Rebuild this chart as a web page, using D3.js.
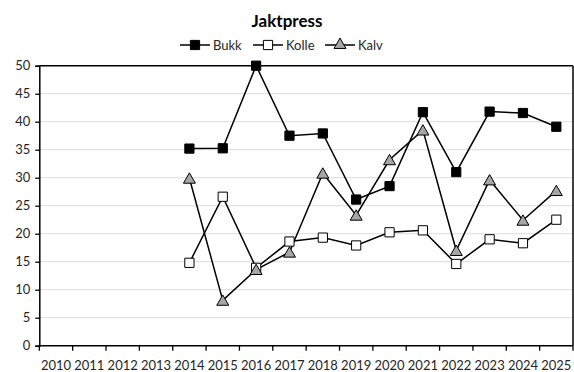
<!DOCTYPE html>
<html>
<head>
<meta charset="utf-8">
<script src="https://cdn.jsdelivr.net/npm/d3@7"></script>
<style>
  body { margin: 0; background: #fff; }
  svg text { font-family: Lato, "Open Sans", sans-serif; }
</style>
</head>
<body>
<svg id="chart" width="574" height="372"></svg>
<script>
var years = ["2010","2011","2012","2013","2014","2015","2016","2017","2018","2019","2020","2021","2022","2023","2024","2025"];
var dataYears = ["2014","2015","2016","2017","2018","2019","2020","2021","2022","2023","2024","2025"];
var bukk  = [35.2, 35.25, 50, 37.5, 37.9, 26.1, 28.5, 41.7, 31.0, 41.8, 41.55, 39.1];
var kolle = [14.8, 26.6, 13.9, 18.6, 19.3, 17.9, 20.25, 20.6, 14.6, 19.0, 18.3, 22.5];
var kalv  = [29.9, 8.1, 13.6, 16.7, 30.8, 23.3, 33.2, 38.5, 17.0, 29.6, 22.4, 27.7];
var yTicks = [0, 5, 10, 15, 20, 25, 30, 35, 40, 45, 50];

var svg = d3.select("#chart");
var margin = {left: 39.3, right: 1, top: 65.7, bottom: 26.3};
var width = 574 - margin.left - margin.right,
    height = 372 - margin.top - margin.bottom;

var x = d3.scaleBand().domain(years).range([0, width]);
var y = d3.scaleLinear().domain([0, 50]).range([height, 0]);

var series = [
  {name: "Bukk", values: bukk, shape: d3.symbolSquare, fill: "#000", size: 85},
  {name: "Kolle", values: kolle, shape: d3.symbolSquare, fill: "#fff", size: 85},
  {name: "Kalv", values: kalv, shape: d3.symbolTriangle, fill: "#a6a6a6", size: 62}
];

// tittel
svg.append("text")
  .attr("x", 287).attr("y", 27)
  .attr("text-anchor", "middle")
  .attr("font-size", 17).attr("font-weight", "bold")
  .attr("fill", "#000")
  .text("Jaktpress");

// legend
var legendX = [180, 253, 325];
var leg = svg.selectAll(".leg").data(series).enter().append("g")
  .attr("class", "leg")
  .attr("transform", function(d, i) { return "translate(" + legendX[i] + ",45)"; });
leg.append("line").attr("x1", 0).attr("x2", 30).attr("stroke", "#000").attr("stroke-width", 1.5);
leg.append("path")
  .attr("transform", "translate(15,0)")
  .attr("d", function(d) { return d3.symbol().type(d.shape).size(d.size)(); })
  .attr("fill", function(d) { return d.fill; })
  .attr("stroke", "#000").attr("stroke-width", 1);
leg.append("text")
  .attr("x", 33).attr("dy", "0.35em")
  .attr("font-size", 13).attr("fill", "#262626")
  .text(function(d) { return d.name; });

var g = svg.append("g")
  .attr("transform", "translate(" + margin.left + "," + margin.top + ")");

// rutenett
g.selectAll(".grid").data(yTicks.slice(1, -1)).enter().append("line")
  .attr("x1", 0).attr("x2", width)
  .attr("y1", function(d) { return y(d); }).attr("y2", function(d) { return y(d); })
  .attr("stroke", "#e3e3e3").attr("stroke-width", 1.3);

// ramme topp og høyre
g.append("line").attr("x1", 0).attr("x2", width).attr("y1", 0).attr("y2", 0)
  .attr("stroke", "#000").attr("stroke-width", 1.5);
g.append("line").attr("x1", width).attr("x2", width).attr("y1", 0).attr("y2", height)
  .attr("stroke", "#000").attr("stroke-width", 1.5);

// akser
var yAxis = g.append("g")
  .call(d3.axisLeft(y).tickValues(yTicks).tickSize(4).tickPadding(5));
var xBounds = d3.range(years.length + 1).map(function(i) { return i * x.step(); });
var xAxis = g.append("g").attr("transform", "translate(0," + height + ")");
xAxis.append("line").attr("x1", 0).attr("x2", width).attr("stroke", "#000").attr("stroke-width", 1.5);
xAxis.selectAll(".tk").data(xBounds).enter().append("line")
  .attr("x1", function(d) { return d; }).attr("x2", function(d) { return d; })
  .attr("y1", 0).attr("y2", 5).attr("stroke", "#000").attr("stroke-width", 1.3);
xAxis.selectAll(".lbl").data(years).enter().append("text")
  .attr("x", function(d) { return x(d) + x.bandwidth() / 2; })
  .attr("y", 20).attr("dy", "0.35em")
  .attr("text-anchor", "middle")
  .attr("font-size", 13).attr("fill", "#262626")
  .text(function(d) { return d; });

yAxis.select(".domain").attr("stroke-width", 1.5);
yAxis.selectAll(".tick line").attr("stroke-width", 1.3);
yAxis.selectAll("text").attr("font-size", 13).attr("fill", "#262626").style("font-family", "Lato, sans-serif");

// serier
var line = d3.line()
  .x(function(d, i) { return x(dataYears[i]) + x.bandwidth() / 2; })
  .y(function(d) { return y(d); });

series.forEach(function(s) {
  g.append("path").datum(s.values)
    .attr("d", line)
    .attr("fill", "none").attr("stroke", "#000").attr("stroke-width", 1.5);
});
series.forEach(function(s) {
  g.selectAll(null).data(s.values).enter().append("path")
    .attr("transform", function(d, i) {
      var dy = s.shape === d3.symbolTriangle ? 1.5 : 0;
      return "translate(" + (x(dataYears[i]) + x.bandwidth() / 2) + "," + (y(d) + dy) + ")";
    })
    .attr("d", d3.symbol().type(s.shape).size(s.size)())
    .attr("fill", s.fill).attr("stroke", "#000").attr("stroke-width", 1);
});
</script>
</body>
</html>
